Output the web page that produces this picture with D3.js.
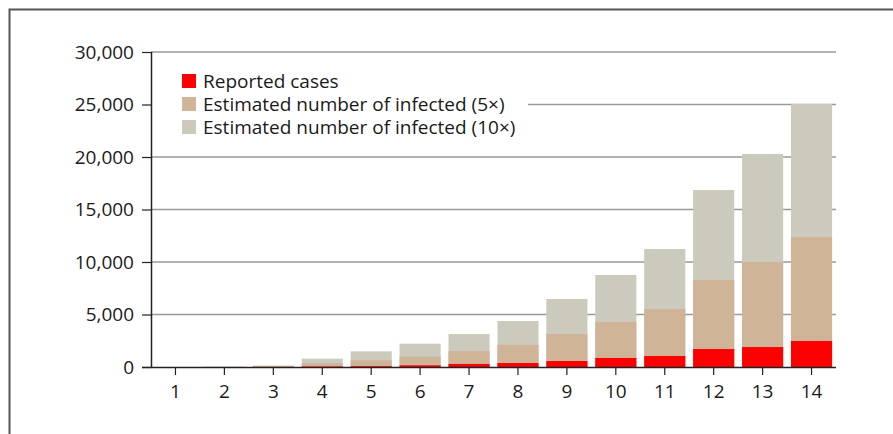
<!DOCTYPE html>
<html>
<head>
<meta charset="utf-8">
<script src="https://cdn.jsdelivr.net/npm/d3@7"></script>
<style>
  html, body { margin: 0; padding: 0; background: #fff; overflow: hidden; }
  svg { display: block; font-family: "Open Sans", "Noto Sans", sans-serif; }
</style>
</head>
<body>
<div id="chart"></div>
<script>
// values
const days = [1, 2, 3, 4, 5, 6, 7, 8, 9, 10, 11, 12, 13, 14];
const reported = [0, 2, 13, 50, 80, 160, 290, 380, 570, 860, 1050, 1710, 1900, 2480];
const est5 = [0, 10, 60, 350, 640, 980, 1520, 2100, 3140, 4290, 5520, 8290, 10000, 12380];
const est10 = [0, 20, 130, 790, 1490, 2220, 3140, 4380, 6480, 8760, 11240, 16860, 20290, 25050];
const yTicks = [0, 5000, 10000, 15000, 20000, 25000, 30000];
const legendLabels = ['Reported cases', 'Estimated number of infected (5×)', 'Estimated number of infected (10×)'];
const colors = ['#ff0000', '#d0b498', '#cccabc'];

const width = 893, height = 434;
const svg = d3.select('#chart').append('svg')
  .attr('width', width).attr('height', height);

// outer frame: only the top and left edges show
svg.append('path')
  .attr('d', `M9.5,${height}V9.5H${width}`)
  .attr('fill', 'none').attr('stroke', '#555').attr('stroke-width', 2);

const mLeft = 151, mRight = 836, mTop = 52, mBottom = 367;

const x = d3.scaleBand()
  .domain(days)
  .range([mLeft, mRight])
  .paddingInner(0.16)
  .paddingOuter(0.08);

const y = d3.scaleLinear()
  .domain([0, 30000])
  .range([mBottom, mTop]);

// gridlines
svg.append('g')
  .selectAll('line')
  .data(yTicks.slice(1))
  .enter()
  .append('line')
  .attr('x1', mLeft).attr('x2', mRight)
  .attr('y1', d => y(d)).attr('y2', d => y(d))
  .attr('stroke', '#999').attr('stroke-width', 1.5);

// bars: overlapping, tallest first
const series = [est10, est5, reported];
const seriesColors = [colors[2], colors[1], colors[0]];
series.forEach((vals, s) => {
  svg.append('g')
    .selectAll('rect')
    .data(vals)
    .enter()
    .append('rect')
    .attr('x', (d, i) => x(days[i]))
    .attr('width', x.bandwidth())
    .attr('y', d => y(d))
    .attr('height', d => mBottom - y(d))
    .attr('fill', seriesColors[s]);
});

// legend with white background hiding the gridline
const lg = svg.append('g');
lg.append('rect')
  .attr('x', mLeft + 1).attr('y', 66)
  .attr('width', 376).attr('height', 74)
  .attr('fill', '#fff');
legendLabels.forEach((t, i) => {
  const cy = 81 + i * 23;
  lg.append('rect')
    .attr('x', 182).attr('y', cy - 7)
    .attr('width', 14).attr('height', 14)
    .attr('fill', colors[i]);
  lg.append('text')
    .attr('x', 203).attr('y', cy)
    .attr('dy', '0.35em')
    .attr('font-size', 19)
    .attr('fill', '#1a1a1a')
    .text(t);
});

// y axis
const yAxis = svg.append('g')
  .attr('transform', `translate(${mLeft},0)`)
  .call(d3.axisLeft(y).tickValues(yTicks).tickSize(9).tickPadding(8)
    .tickFormat(d3.format(',')));
yAxis.select('.domain').attr('stroke', '#222').attr('stroke-width', 1.5)
  .attr('d', `M0.5,${mTop}V${mBottom}`);
yAxis.selectAll('.tick line').attr('stroke', '#222').attr('stroke-width', 1.2);
yAxis.selectAll('text').attr('font-size', 19).attr('fill', '#1a1a1a')
  .attr('font-family', '"Open Sans", "Noto Sans", sans-serif');

// x axis
const xAxis = svg.append('g')
  .attr('transform', `translate(0,${mBottom})`)
  .call(d3.axisBottom(x).tickSize(8).tickPadding(10));
xAxis.select('.domain').attr('stroke', '#222').attr('stroke-width', 1.5)
  .attr('d', `M${mLeft - 9},0.5H${mRight}`);
xAxis.selectAll('.tick line').attr('stroke', '#222').attr('stroke-width', 1.2);
xAxis.selectAll('text').attr('font-size', 19).attr('fill', '#1a1a1a')
  .attr('font-family', '"Open Sans", "Noto Sans", sans-serif');
</script>
</body>
</html>
